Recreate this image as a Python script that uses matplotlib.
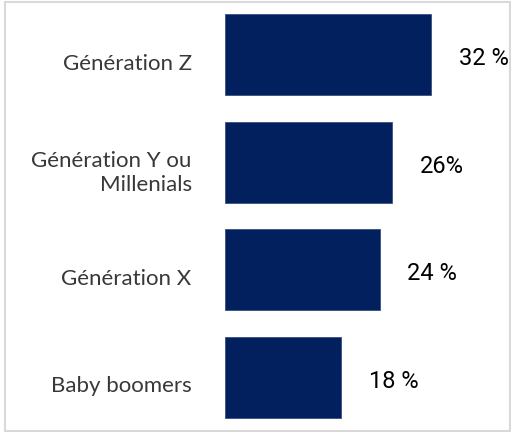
import matplotlib.pyplot as plt
from matplotlib.patches import Rectangle
from matplotlib.transforms import ScaledTranslation

categories = ["Génération Z", "Génération Y ou\nMillenials", "Génération X", "Baby boomers"]
values = [32, 26, 24, 18]
value_labels = ["32 %", "26%", "24 %", "18 %"]

BAR_COLOR = "#02205e"

fig = plt.figure(figsize=(5.11, 4.33), dpi=100)
ax = fig.add_axes([225 / 511, 2 / 433, 285 / 511, 430 / 433])

y = list(range(len(categories)))
ax.barh(y, values, height=0.75, color=BAR_COLOR, edgecolor="#3a4f80", linewidth=0.6)

ax.set_xlim(0, 285 / 6.44)
ax.set_ylim(3.5, -0.5)

ax.set_yticks(y)
ax.set_yticklabels(categories, fontsize=16, color="#383838", family="Lato",
                   linespacing=1.25)
ax.tick_params(axis="y", length=0, pad=24)
ax.set_xticks([])
for lab in ax.get_yticklabels():
    lab.set_transform(lab.get_transform() + ScaledTranslation(0, -0.07, fig.dpi_scale_trans))

for yi, v, txt in zip(y, values, value_labels):
    ax.annotate(txt, (v, yi), xytext=(20, -3), textcoords="offset points",
                ha="left", va="center", fontsize=17, color="black", family="Roboto")

for s in ax.spines.values():
    s.set_visible(False)

# light grey frame around the whole chart
fig.patches.append(Rectangle((5 / 511, 2 / 433), 505 / 511, 429 / 433,
                             transform=fig.transFigure, fill=False,
                             edgecolor="#d9d9d9", linewidth=1.5))

fig.savefig("out.png", dpi=100)
